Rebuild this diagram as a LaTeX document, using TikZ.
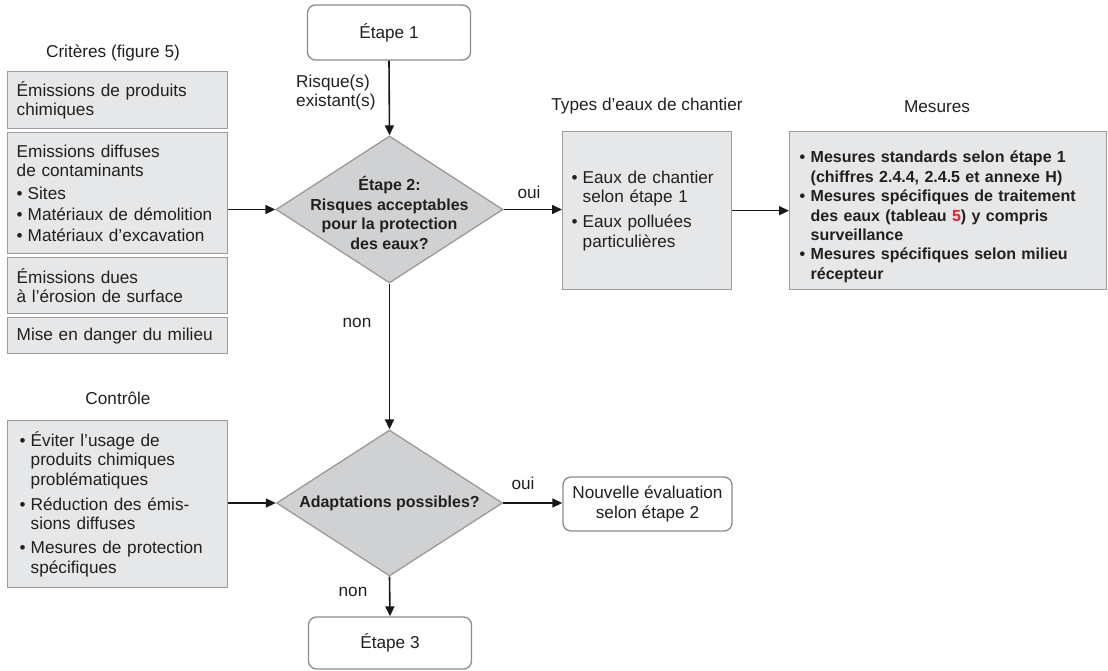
\documentclass[tikz,border=0pt]{standalone}
\usepackage{fontspec}
\setmainfont{Liberation Sans}
\usetikzlibrary{shapes.geometric,arrows.meta}
\definecolor{txt}{HTML}{231F20}
\definecolor{boxfill}{HTML}{E6E7E8}
\definecolor{boxline}{HTML}{9C9C9C}
\definecolor{diafill}{HTML}{D0D1D3}
\definecolor{diline}{HTML}{9A9A9A}
\definecolor{rline}{HTML}{8C8C8C}
\definecolor{refred}{HTML}{E8202A}
\newcommand\bu{\makebox[11pt][l]{\textbullet}}
\newcommand\ind{\hspace*{11pt}}
\begin{document}
\begin{tikzpicture}[x=1pt,y=-1pt,
  every node/.style={text=txt,font=\fontsize{17.2}{19.3}\selectfont},
  greybox/.style={draw=boxline,fill=boxfill,line width=1.4pt,rectangle,inner xsep=9pt,inner ysep=0pt,align=left},
  stepbox/.style={draw=rline,fill=white,line width=1.3pt,rounded corners=8pt,rectangle,align=center,inner sep=0pt},
  dia/.style={draw=diline,fill=diafill,line width=1.3pt,diamond,inner sep=0pt},
  bold/.style={font=\fontsize{16}{19.8}\selectfont\bfseries,align=center},
  arr/.style={line width=1.6pt,draw=black!90,-{Triangle[length=10pt,width=9pt]}},
  lbl/.style={align=left,inner sep=0pt}]
\useasboundingbox (0,0) rectangle (1108,671);

% titles
\node[lbl] (tcrit) at (113,53) {Critères (figure 5)};
\node[lbl] (ttypes) at (647,106) {Types d’eaux de chantier};
\node[lbl] (tmes) at (937,107) {Mesures};
\node[lbl] (tctrl) at (118,398) {Contrôle};

% step boxes
\node[stepbox,minimum width=163pt,minimum height=55pt] (e1) at (389,32.5) {Étape 1};
\node[stepbox,minimum width=163pt,minimum height=52pt] (e3) at (390,643) {Étape 3};
\node[stepbox,minimum width=169pt,minimum height=54pt,font=\fontsize{17.2}{20.5}\selectfont] (nouv) at (647.5,504) {Nouvelle évaluation\\selon étape 2};

% diamonds
\node[dia,minimum width=227pt,minimum height=147pt] (d1) at (389.5,209.5) {};
\node[bold] (d1t) at (389.5,213) {Étape 2:\\Risques acceptables\\pour la protection\\des eaux?};
\node[dia,minimum width=226pt,minimum height=146pt] (d2) at (389.5,503) {};
\node[bold] (d2t) at (389.5,503) {Adaptations possibles?};

% criteria boxes
\node[greybox,text width=202pt,minimum height=57pt,anchor=north west] (c1) at (7,71) {Émissions de produits\\chimiques};
\node[greybox,text width=202pt,minimum height=121pt,anchor=north west] (c2) at (7,132) {Emissions diffuses\\de contaminants\\[4pt]\bu Sites\\[1.5pt]\bu Matériaux de démolition\\[1.5pt]\bu Matériaux d’excavation};
\node[greybox,text width=202pt,minimum height=56pt,anchor=north west] (c3) at (7,257) {Émissions dues\\à l’érosion de surface};
\node[greybox,text width=202pt,minimum height=36pt,anchor=north west] (c4) at (7,317) {Mise en danger du milieu};

% control box
\node[greybox,inner xsep=12pt,text width=196pt,minimum height=167pt,anchor=north west] (ctrl) at (7,420) {\bu Éviter l’usage de\\\ind produits chimiques\\\ind problématiques\\[6pt]\bu Réduction des émis-\\\ind sions diffuses\\[5pt]\bu Mesures de protection\\\ind spécifiques};

% types box
\node[greybox,text width=151pt,minimum height=158pt,anchor=north west] (types) at (562,131) {\bu Eaux de chantier\\\ind selon étape 1\\[6pt]\bu Eaux polluées\\\ind particulières};

% measures box
\node[greybox,inner xsep=10pt,text width=297pt,minimum height=158pt,anchor=north west,font=\fontsize{16}{19.4}\selectfont\bfseries] (mes) at (789,131) {\rule{0pt}{24pt}\bu Mesures standards selon étape 1\\\ind (chiffres 2.4.4, 2.4.5 et annexe H)\\\bu Mesures spécifiques de traitement\\\ind des eaux (tableau \textcolor{refred}{5}) y compris\\\ind surveillance\\\bu Mesures spécifiques selon milieu\\\ind récepteur};

% labels
\node[lbl,anchor=west] (risk) at (296,92.5) {Risque(s)\\existant(s)};
\node[lbl] (oui1) at (529,192) {oui};
\node[lbl] (non1) at (357,323) {non};
\node[lbl] (oui2) at (523,483) {oui};
\node[lbl] (non2) at (353,592) {non};

% connectors
\draw[arr] (e1.south) -- (d1.north);
\draw[arr] (c2.east |- d1.west) -- (d1.west);
\draw[arr] (d1.east) -- (types.west |- d1.east);
\draw[arr] (types.east) -- (mes.west |- types.east);
\draw[arr] (d1.south) -- (d2.north);
\draw[arr] (ctrl.east |- d2.west) -- (d2.west);
\draw[arr] (d2.east) -- (nouv.west |- d2.east);
\draw[arr] (d2.south) -- (e3.north);
\end{tikzpicture}
\end{document}
